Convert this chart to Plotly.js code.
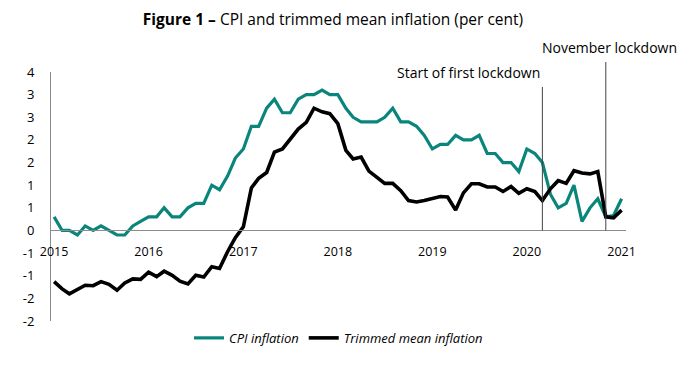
<!DOCTYPE html>
<html>
<head>
<meta charset="utf-8">
<script src="https://cdn.plot.ly/plotly-3.0.1.min.js"></script>
<style>
  html, body { margin: 0; padding: 0; background: #fff; }
  #chart { width: 699px; height: 367px; }
</style>
</head>
<body>
<div id="chart"></div>
<script>
// Monthly observations, Jan 2015 – Jan 2021
var startYear = 2015;
var monthCount = 73;

var cpiInflation = [
  0.3, 0.0, 0.0, -0.1, 0.1, 0.0, 0.1, 0.0, -0.1, -0.1, 0.1, 0.2,
  0.3, 0.3, 0.5, 0.3, 0.3, 0.5, 0.6, 0.6, 1.0, 0.9, 1.2, 1.6,
  1.8, 2.3, 2.3, 2.7, 2.9, 2.6, 2.6, 2.9, 3.0, 3.0, 3.1, 3.0,
  3.0, 2.7, 2.5, 2.4, 2.4, 2.4, 2.5, 2.7, 2.4, 2.4, 2.3, 2.1,
  1.8, 1.9, 1.9, 2.1, 2.0, 2.0, 2.1, 1.7, 1.7, 1.5, 1.5, 1.3,
  1.8, 1.7, 1.5, 0.8, 0.5, 0.6, 1.0, 0.2, 0.5, 0.7, 0.3, 0.33,
  0.7
];

var trimmedMean = [
  -1.13, -1.29, -1.40, -1.30, -1.21, -1.22, -1.13, -1.19, -1.32, -1.16, -1.07, -1.08,
  -0.92, -1.02, -0.90, -0.99, -1.12, -1.18, -0.99, -1.03, -0.80, -0.84, -0.47, -0.16,
  0.08, 0.94, 1.15, 1.28, 1.73, 1.80, 2.02, 2.24, 2.39, 2.70, 2.62, 2.58,
  2.36, 1.77, 1.58, 1.62, 1.31, 1.18, 1.04, 1.04, 0.88, 0.66, 0.63, 0.66,
  0.70, 0.75, 0.74, 0.45, 0.83, 1.03, 1.03, 0.96, 0.96, 0.86, 0.97, 0.82,
  0.92, 0.86, 0.66, 0.92, 1.10, 1.04, 1.32, 1.27, 1.25, 1.30, 0.30, 0.28,
  0.45
];

var xTickVals = ['2015-01-01', '2016-01-01', '2017-01-01', '2018-01-01', '2019-01-01', '2020-01-01', '2021-01-01'];
var xTickText = ['2015', '2016', '2017', '2018', '2019', '2020', '2021'];

var yTickVals = [3.5, 3, 2.5, 2, 1.5, 1, 0.5, 0, -0.5, -1, -1.5, -2];
var yTickText = ['4', '3', '3', '2', '2', '1', '1', '0', '-1', '-1', '-2', '-2'];

var lockdownDates = ['2020-03-01', '2020-11-01'];
var lockdownLabels = ['Start of first lockdown', 'November lockdown'];

var seriesNames = ['CPI inflation', 'Trimmed mean inflation'];

// month axis
var months = [];
for (var i = 0; i < monthCount; i++) {
  var y = startYear + Math.floor(i / 12);
  var m = (i % 12) + 1;
  months.push(y + '-' + (m < 10 ? '0' + m : m) + '-01');
}

var FONT = '"Open Sans", "Noto Sans", sans-serif';
var GREEN = '#0a857b';
var AXIS = '#8c8c8c';

var traces = [
  {
    x: months, y: cpiInflation, name: seriesNames[0], type: 'scatter', mode: 'lines',
    line: { color: GREEN, width: 3.2 }
  },
  {
    x: months, y: trimmedMean, name: seriesNames[1], type: 'scatter', mode: 'lines',
    line: { color: '#000000', width: 3.6 }
  }
];

var layout = {
  width: 699, height: 367,
  margin: { l: 51, r: 73, t: 72, b: 46 },
  paper_bgcolor: '#ffffff', plot_bgcolor: '#ffffff',
  font: { family: FONT, color: '#000000', size: 13 },
  showlegend: true,
  title: {
    text: '<b>Figure 1 –</b> CPI and trimmed mean inflation (per cent)',
    font: { family: FONT, size: 15.5, color: '#000000' },
    x: 333 / 699, xanchor: 'center', xref: 'container',
    y: 1 - 20 / 367, yanchor: 'middle', yref: 'container'
  },
  xaxis: {
    type: 'date',
    range: ['2014-12-20', '2021-01-18'],
    tickvals: xTickVals, ticktext: xTickText,
    showgrid: false, zeroline: false,
    showline: true, linecolor: AXIS, linewidth: 1,
    ticks: '', ticklabelstandoff: 10,
    anchor: 'free', position: (0 - (-2)) / (3.5 - (-2)),
    tickfont: { family: FONT, size: 12.5, color: '#000000' }
  },
  yaxis: {
    range: [-2, 3.5],
    tickvals: yTickVals, ticktext: yTickText,
    showgrid: false, zeroline: false,
    showline: true, linecolor: AXIS, linewidth: 1,
    ticks: '', ticklabelstandoff: 13,
    tickfont: { family: FONT, size: 13, color: '#000000' }
  },
  legend: {
    orientation: 'h',
    x: 0.5, xanchor: 'center', xref: 'paper',
    y: -0.068, yanchor: 'middle',
    font: { family: FONT, size: 13, style: 'italic', color: '#000000' },
    itemwidth: 30, tracegroupgap: 0,
    bgcolor: 'rgba(0,0,0,0)'
  },
  shapes: lockdownDates.map(function (d, k) {
    return {
      type: 'line', xref: 'x', yref: 'paper',
      x0: d, x1: d,
      y0: (0 - (-2)) / 5.5, y1: k === 0 ? 0.94 : 1.04,
      line: { color: '#444444', width: 1 }
    };
  }),
  annotations: lockdownDates.map(function (d, k) {
    return {
      xref: 'x', yref: 'paper', x: d,
      y: k === 0 ? 1.0 : 1.10,
      xanchor: k === 0 ? 'right' : 'center', yanchor: 'middle',
      xshift: k === 0 ? 0 : 4,
      text: lockdownLabels[k], showarrow: false,
      font: { family: FONT, size: 14, color: '#000000' }
    };
  })
};

Plotly.newPlot('chart', traces, layout, { displayModeBar: false, staticPlot: true });
</script>
</body>
</html>
